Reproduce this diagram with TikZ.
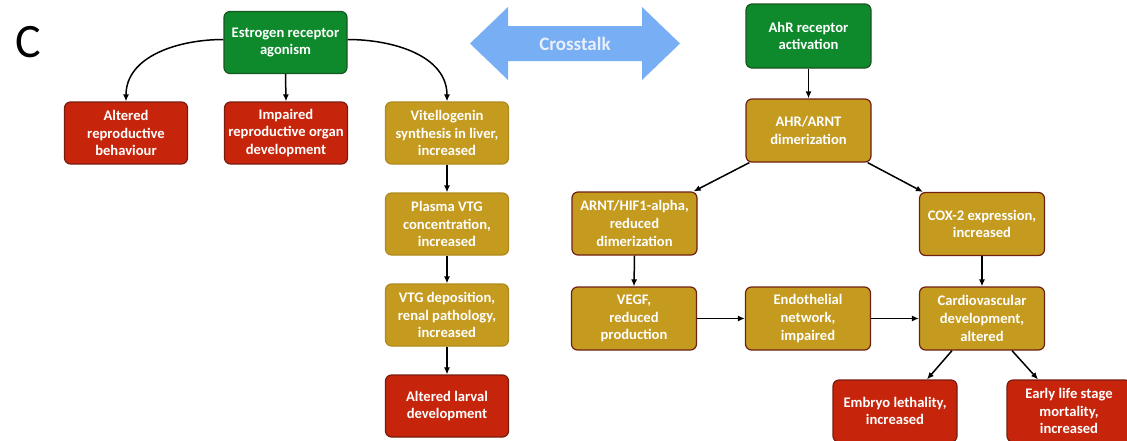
\documentclass[tikz,border=0pt]{standalone}
\usepackage{fontspec}
\setmainfont{Carlito}
\usetikzlibrary{arrows.meta,calc}
\definecolor{gfill}{HTML}{0E8A2C}
\definecolor{gline}{HTML}{17561F}
\definecolor{rfill}{HTML}{C6250C}
\definecolor{rline}{HTML}{7A1B0E}
\definecolor{yfill}{HTML}{C49A1F}
\definecolor{yline}{HTML}{B08A1C}
\definecolor{ylineD}{HTML}{6E2012}
\definecolor{xblue}{HTML}{78AEF4}
\definecolor{xtext}{HTML}{E8F0FC}
\begin{document}
\begin{tikzpicture}[x=1pt,y=-1pt,
  box/.style={rectangle,rounded corners=6pt,minimum width=123pt,minimum height=62pt,inner sep=0pt,
    align=center,text=white,line width=1.2pt,font=\bfseries\fontsize{14.6}{17.6}\selectfont},
  gbox/.style={box,fill=gfill,draw=gline},
  rbox/.style={box,fill=rfill,draw=rline},
  ybox/.style={box,fill=yfill,draw=yline},
  ydbox/.style={box,fill=yfill,draw=ylineD},
  conn/.style={line width=1.5pt,-{Latex[length=7pt,width=6pt]}}]
\useasboundingbox (0,0) rectangle (1127,440);
\node (lab) at (28.5,42) {\fontsize{48}{54}\selectfont C};
% crosstalk arrow
\fill[xblue] (470,43.5) -- (508,7) -- (508,26) -- (642,26) -- (642,7) -- (680,43.5) -- (642,80) -- (642,61) -- (508,61) -- (508,80) -- cycle;
\node[text=xtext,font=\bfseries\fontsize{19}{22}\selectfont] (cross) at (575,44) {Crosstalk};
% left pathway
\node[gbox] (er) at (285.5,42.5) {Estrogen receptor\\agonism};
\node[rbox] (arb) at (126,133) {Altered\\reproductive\\behaviour};
\node[rbox] (iro) at (286,133) {Impaired\\reproductive organ\\development};
\node[ybox] (vit) at (447,133) {Vitellogenin\\synthesis in liver,\\increased};
\node[ybox] (pvtg) at (447,224) {Plasma VTG\\concentration,\\increased};
\node[ybox] (vtgd) at (447,315) {VTG deposition,\\renal pathology,\\increased};
\node[rbox] (ald) at (447,406) {Altered larval\\development};
% right pathway
\node[gbox,minimum width=125pt,minimum height=64pt] (ahr) at (808.5,36) {AhR receptor\\activation};
\node[ydbox,minimum width=125pt,minimum height=63pt] (dim) at (808.5,130.5) {AHR/ARNT\\dimerization};
\node[ydbox,minimum width=125pt,minimum height=63pt] (hif) at (634.5,223.5) {ARNT/HIF1-alpha,\\reduced\\dimerization};
\node[ydbox,minimum width=125pt,minimum height=63pt] (cox) at (982,224) {COX-2 expression,\\increased};
\node[ydbox,minimum width=125pt,minimum height=63pt] (vegf) at (634,318.5) {VEGF,\\reduced\\production};
\node[ydbox,minimum width=125pt,minimum height=63pt] (endo) at (808,318.5) {Endothelial\\network,\\impaired};
\node[ydbox,minimum width=125pt,minimum height=63pt] (cardio) at (982,318.5) {Cardiovascular\\development,\\altered};
\node[rbox,minimum width=124pt,minimum height=62pt] (emb) at (895,411) {Embryo lethality,\\increased};
\node[rbox,minimum width=124pt,minimum height=62pt] (els) at (1069,411) {Early life stage\\mortality,\\increased};
% connectors left
\draw[conn] ($(er.west)+(0,-3)$) to[out=180,in=90] (arb.north);
\draw[conn] (er.south) -- (iro.north);
\draw[conn] ($(er.east)+(0,-3)$) to[out=0,in=90] (vit.north);
\draw[conn] (vit.south) -- (pvtg.north);
\draw[conn] (pvtg.south) -- (vtgd.north);
\draw[conn] (vtgd.south) -- (ald.north);
% connectors right
\draw[conn] (ahr.south) -- (dim.north);
\draw[conn] ($(dim.south west)+(4,0)$) -- ($(hif.north east)+(-4,0)$);
\draw[conn] ($(dim.south east)+(-4,0)$) -- ($(cox.north west)+(4,0)$);
\draw[conn] (hif.south) -- (vegf.north);
\draw[conn] (vegf.east) -- (endo.west);
\draw[conn] (endo.east) -- (cardio.west);
\draw[conn] (cox.south) -- (cardio.north);
\draw[conn] ($(cardio.south)+(-30,0)$) -- ($(emb.north)+(32,0)$);
\draw[conn] ($(cardio.south)+(30,0)$) -- ($(els.north)+(-31,0)$);
\end{tikzpicture}
\end{document}
